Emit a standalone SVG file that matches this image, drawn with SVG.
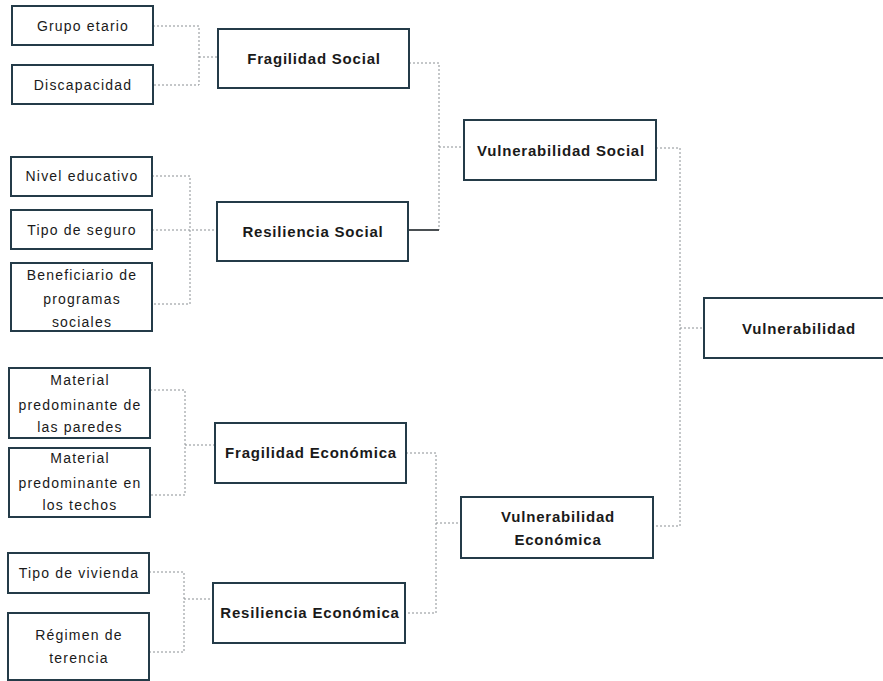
<svg xmlns="http://www.w3.org/2000/svg" width="883" height="681" viewBox="0 0 883 681">
<style>
.box{fill:#fff;stroke:#243b48;stroke-width:2}
.leaf{font-family:"Liberation Sans",Arial,sans-serif;font-size:14px;fill:#1a1a1a;text-anchor:middle;letter-spacing:1.2px}
.mid{font-family:"Liberation Sans",Arial,sans-serif;font-size:15px;font-weight:bold;fill:#1a1a1a;text-anchor:middle;letter-spacing:0.8px}
.con{fill:none;stroke:#8a8f93;stroke-width:1;stroke-dasharray:2 2}
.solid{fill:none;stroke:#4a4f52;stroke-width:2}
</style>
<rect width="883" height="681" fill="#fff"/>
<g id="connectors">
<path class="con" d="M153,26 H199 V85 H153 M199,57 H218"/>
<path class="con" d="M152,176 H190 V304 H152 M152,230 H217"/>
<path class="con" d="M150,390 H185 V495 H150 M185,445 H215"/>
<path class="con" d="M149,572 H184 V652 H149 M184,599 H213"/>
<path class="con" d="M409,63 H439 V230 M439,147 H464"/>
<path class="solid" d="M408,230 H439"/>
<path class="con" d="M406,453 H436 V613 H405 M436,523 H461"/>
<path class="con" d="M656,148 H680 V526 H653 M680,328 H704"/>
</g>
<g id="n-grupo"><rect class="box" x="12" y="6" width="141" height="39"/><text class="leaf" x="83" y="31">Grupo etario</text></g>
<g id="n-discapacidad"><rect class="box" x="12" y="65" width="141" height="39"/><text class="leaf" x="83" y="90">Discapacidad</text></g>
<g id="n-nivel"><rect class="box" x="11" y="157" width="141" height="39"/><text class="leaf" x="82" y="181">Nivel educativo</text></g>
<g id="n-seguro"><rect class="box" x="11" y="210" width="141" height="39"/><text class="leaf" x="82" y="235">Tipo de seguro</text></g>
<g id="n-beneficiario"><rect class="box" x="11" y="263" width="141" height="68"/><text class="leaf" x="82" y="280">Beneficiario de</text><text class="leaf" x="82" y="304">programas</text><text class="leaf" x="82" y="327">sociales</text></g>
<g id="n-paredes"><rect class="box" x="9" y="368" width="141" height="70"/><text class="leaf" x="80" y="385">Material</text><text class="leaf" x="80" y="410">predominante de</text><text class="leaf" x="80" y="432">las paredes</text></g>
<g id="n-techos"><rect class="box" x="9" y="448" width="141" height="69"/><text class="leaf" x="80" y="463">Material</text><text class="leaf" x="80" y="488">predominante en</text><text class="leaf" x="80" y="510">los techos</text></g>
<g id="n-vivienda"><rect class="box" x="8" y="553" width="141" height="40"/><text class="leaf" x="79" y="578">Tipo de vivienda</text></g>
<g id="n-regimen"><rect class="box" x="8" y="613" width="141" height="67"/><text class="leaf" x="79" y="640">Régimen de</text><text class="leaf" x="79" y="663">terencia</text></g>
<g id="n-fragsoc"><rect class="box" x="218" y="29" width="191" height="59"/><text class="mid" x="314" y="64">Fragilidad Social</text></g>
<g id="n-ressoc"><rect class="box" x="217" y="202" width="191" height="59"/><text class="mid" x="313" y="237">Resiliencia Social</text></g>
<g id="n-frageco"><rect class="box" x="215" y="423" width="191" height="60"/><text class="mid" x="311" y="458">Fragilidad Económica</text></g>
<g id="n-reseco"><rect class="box" x="213" y="583" width="192" height="60"/><text class="mid" x="310" y="618">Resiliencia Económica</text></g>
<g id="n-vulsoc"><rect class="box" x="464" y="120" width="192" height="60"/><text class="mid" x="561" y="156">Vulnerabilidad Social</text></g>
<g id="n-vuleco"><rect class="box" x="461" y="497" width="192" height="61"/><text class="mid" x="558" y="522">Vulnerabilidad</text><text class="mid" x="558" y="545">Económica</text></g>
<g id="n-vul"><rect class="box" x="704" y="298" width="190" height="60"/><text class="mid" x="799" y="334">Vulnerabilidad</text></g>
</svg>
